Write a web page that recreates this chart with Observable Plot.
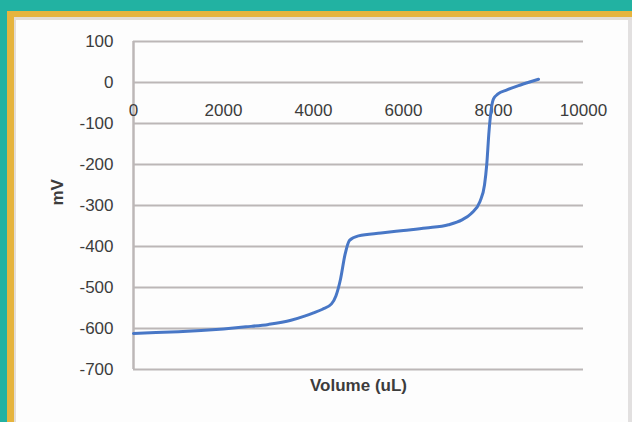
<!DOCTYPE html>
<html>
<head>
<meta charset="utf-8">
<script src="https://cdn.jsdelivr.net/npm/d3@7"></script>
<script src="https://cdn.jsdelivr.net/npm/@observablehq/plot@0.6"></script>
<style>
  html, body { margin: 0; padding: 0; background: #fdfdfd; }
  #wrap { position: relative; width: 632px; height: 422px; overflow: hidden; background: #fdfdfd; }
  .b { position: absolute; }
  #chart { position: absolute; left: 0; top: 0; }
</style>
</head>
<body>
<div id="wrap">
  <div class="b" style="left:0;top:0;width:632px;height:11px;background:#22b2a2"></div>
  <div class="b" style="left:0;top:0;width:7px;height:422px;background:#22b2a2"></div>
  <div class="b" style="left:7px;top:11px;width:625px;height:6px;background:#e6b43e"></div>
  <div class="b" style="left:7px;top:11px;width:7px;height:411px;background:#e6b43e"></div>
  <div class="b" style="left:14px;top:17px;width:618px;height:3px;background:#e4ddd6"></div>
  <div class="b" style="left:14px;top:17px;width:2px;height:405px;background:#e4ddd6"></div>
  <div class="b" style="left:628px;top:20px;width:4px;height:402px;background:#e2e0e0"></div>
  <div id="chart"></div>
</div>
<script>
const xTicks = [0, 2000, 4000, 6000, 8000, 10000];
const yTicks = [100, 0, -100, -200, -300, -400, -500, -600, -700];
const volume = [0, 500, 1000, 1500, 2000, 2500, 3000, 3500, 3800, 4000, 4200, 4400, 4500, 4600, 4700, 4800, 5000, 5500, 6000, 6500, 7000, 7300, 7500, 7700, 7800, 7850, 7900, 7950, 8000, 8100, 8300, 8600, 9000];
const mv = [-612, -610, -608, -605, -601, -596, -590, -580, -570, -562, -553, -540, -520, -480, -420, -385, -374, -367, -361, -355, -347, -335, -320, -290, -250, -200, -120, -65, -40, -28, -18, -6, 8];

const data = volume.map((v, i) => ({v, m: mv[i]}));
const grid = "#bcb7b7";
const ink = "#3c3c3c";

const chart = Plot.plot({
  width: 632,
  height: 422,
  marginLeft: 133,
  marginRight: 49,
  marginTop: 41,
  marginBottom: 53,
  style: {background: "transparent", fontFamily: "'Liberation Sans', Arial, sans-serif"},
  x: {type: "linear", domain: [0, 10000], axis: null},
  y: {type: "linear", domain: [-700, 100], axis: null},
  marks: [
    Plot.ruleY(yTicks, {stroke: grid, strokeWidth: 2}),
    Plot.ruleX([0], {stroke: grid, strokeWidth: 2.5}),
    Plot.text(yTicks, {x: () => 0, y: d => d, dx: -20, textAnchor: "end", text: d => String(d), fontSize: 17, fill: ink}),
    Plot.text(xTicks, {x: d => d, y: () => 0, dy: 28, text: d => String(d), fontSize: 17, fill: ink}),
    Plot.line(data, {x: "v", y: "m", curve: "monotone-x", stroke: "#4877c6", strokeWidth: 3}),
    Plot.text(["Volume (uL)"], {frameAnchor: "bottom", dy: 21, fontSize: 17, fontWeight: "bold", fill: ink}),
    Plot.text(["mV"], {frameAnchor: "left", dx: -76, rotate: -90, fontSize: 17, fontWeight: "bold", fill: ink})
  ]
});
document.getElementById("chart").appendChild(chart);
</script>
</body>
</html>
